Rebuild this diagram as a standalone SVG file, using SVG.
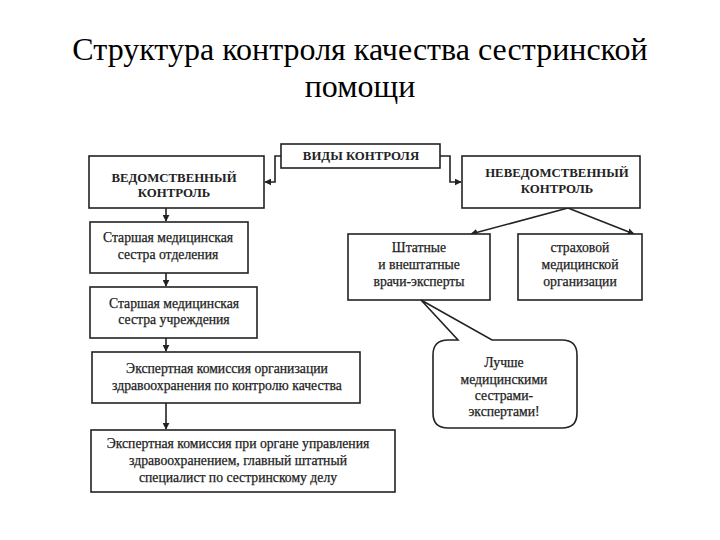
<svg xmlns="http://www.w3.org/2000/svg" width="720" height="540" viewBox="0 0 720 540">
<defs>
<style>
.box{fill:#fff;stroke:#222;stroke-width:1.6}
text{font-family:'Liberation Serif','Times New Roman',serif}
.t{font-size:13.7px;fill:#222;stroke:#222;stroke-width:0.25;text-anchor:middle}
.c{font-size:12.8px;font-weight:bold;fill:#222;text-anchor:middle}
.title{font-size:32px;fill:#000;text-anchor:middle}
.ln{fill:none;stroke:#222;stroke-width:1.6}
</style>
<marker id="ar" viewBox="0 0 10 10" refX="9" refY="5" markerWidth="7" markerHeight="7" markerUnits="userSpaceOnUse" orient="auto">
<path d="M0,0 L10,5 L0,10 z" fill="#222"/>
</marker>
</defs>
<rect width="720" height="540" fill="#fff"/>
<text class="title" x="360" y="60">Структура контроля качества сестринской</text>
<text class="title" x="360" y="97">помощи</text>
<g id="connectors">
<path class="ln" d="M281,156 H275 V182 H265" marker-end="url(#ar)"/>
<path class="ln" d="M440,156 H450 V182 H461" marker-end="url(#ar)"/>
<path class="ln" d="M568,208 L471,234" marker-end="url(#ar)"/>
<path class="ln" d="M568,208 L634,234" marker-end="url(#ar)"/>
<path class="ln" d="M166,208 V221" marker-end="url(#ar)"/>
<path class="ln" d="M166,273 V286" marker-end="url(#ar)"/>
<path class="ln" d="M166,338 V351" marker-end="url(#ar)"/>
<path class="ln" d="M166,403 V429" marker-end="url(#ar)"/>
</g>
<g id="vidy">
<rect class="box" x="281" y="144" width="159" height="24"/>
<text class="c" x="361" y="160">ВИДЫ КОНТРОЛЯ</text>
</g>
<g id="vedom">
<rect class="box" x="89" y="156" width="175" height="52"/>
<text class="c" x="174" y="182">ВЕДОМСТВЕННЫЙ</text>
<text class="c" x="174" y="197">КОНТРОЛЬ</text>
</g>
<g id="neved">
<rect class="box" x="462" y="156" width="178" height="52"/>
<text class="c" x="557" y="177">НЕВЕДОМСТВЕННЫЙ</text>
<text class="c" x="557" y="193">КОНТРОЛЬ</text>
</g>
<g id="st-otd">
<rect class="box" x="90" y="222" width="158" height="51"/>
<text class="t" x="168" y="242">Старшая медицинская</text>
<text class="t" x="168" y="259">сестра отделения</text>
</g>
<g id="st-uchr">
<rect class="box" x="90" y="287" width="167" height="51"/>
<text class="t" x="174" y="308">Старшая медицинская</text>
<text class="t" x="174" y="324">сестра учреждения</text>
</g>
<g id="eksp-org">
<rect class="box" x="92" y="352" width="268" height="51"/>
<text class="t" x="227" y="373">Экспертная комиссия организации</text>
<text class="t" x="227" y="390">здравоохранения по контролю качества</text>
</g>
<g id="eksp-upr">
<rect class="box" x="91" y="430" width="304" height="62"/>
<text class="t" x="238" y="448">Экспертная комиссия при органе управления</text>
<text class="t" x="238" y="465">здравоохранением, главный штатный</text>
<text class="t" x="238" y="482">специалист по сестринскому делу</text>
</g>
<g id="shtat">
<rect class="box" x="348" y="234" width="142" height="66"/>
<text class="t" x="419" y="252">Штатные</text>
<text class="t" x="419" y="269">и внештатные</text>
<text class="t" x="419" y="286">врачи-эксперты</text>
</g>
<g id="strah">
<rect class="box" x="518" y="234" width="124" height="66"/>
<text class="t" x="580" y="252">страховой</text>
<text class="t" x="580" y="269">медицинской</text>
<text class="t" x="580" y="286">организации</text>
</g>
<g id="bubble">
<path class="box" d="M421,300 L458,340 L448,340 Q433,340 433,355 L433,413 Q433,428 448,428 L562,428 Q577,428 577,413 L577,355 Q577,340 562,340 L492,340 Z"/>
<text class="t" x="504" y="367">Лучше</text>
<text class="t" x="504" y="384">медицинскими</text>
<text class="t" x="504" y="400">сестрами-</text>
<text class="t" x="504" y="416">экспертами!</text>
</g>
</svg>
